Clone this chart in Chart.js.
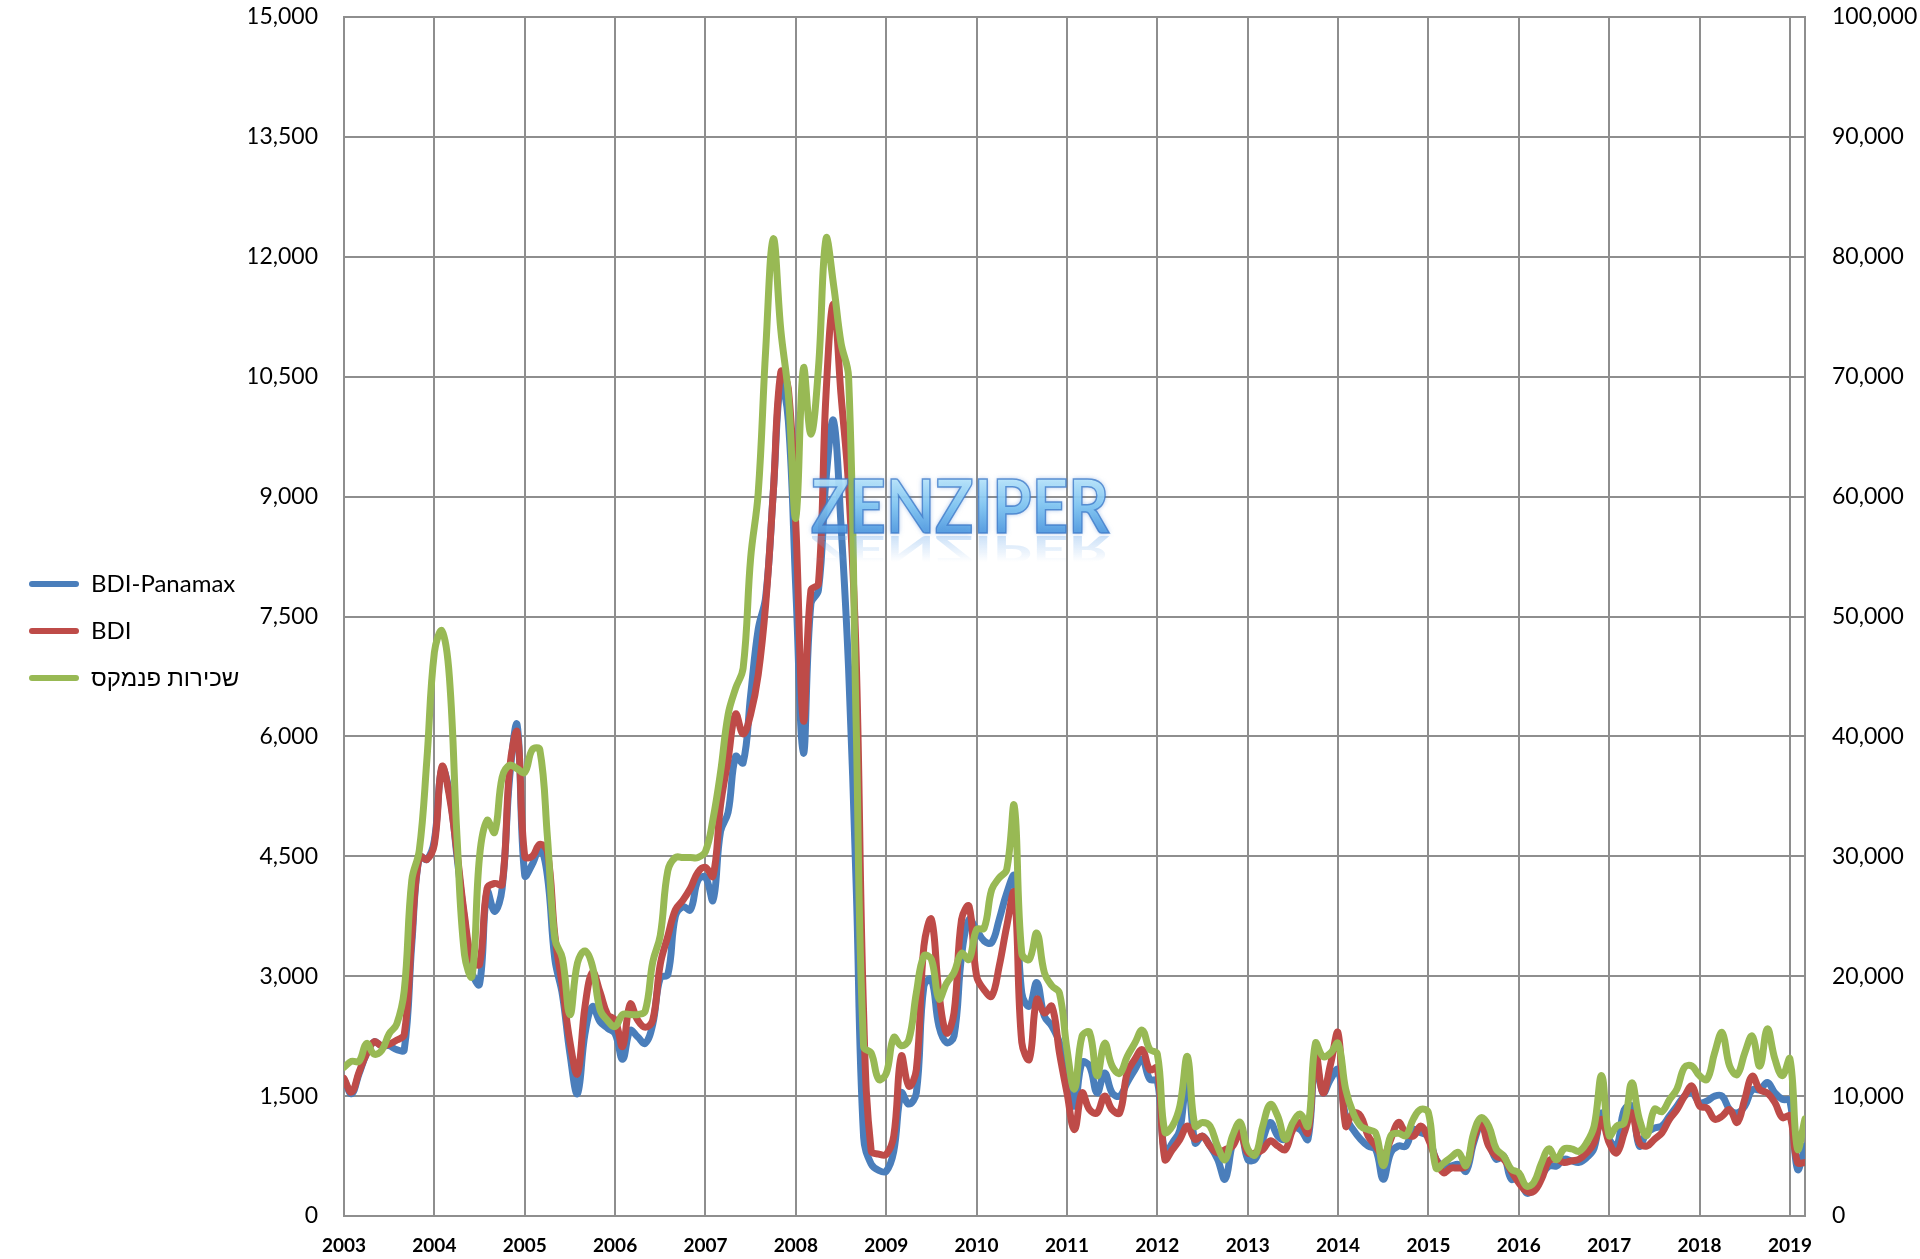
<!DOCTYPE html>
<html><head><meta charset="utf-8">
<script src="https://cdn.jsdelivr.net/npm/chart.js@4.4.1/dist/chart.umd.min.js"></script>
<style>html,body{margin:0;padding:0;background:#fff;}canvas{display:block;}</style>
</head><body>
<canvas id="c" width="1920" height="1259"></canvas>
<script>
// ---- data (monthly, Jan 2003 .. Mar 2019) ----
const firstYear = 2003;
const yearTicks = [2003,2004,2005,2006,2007,2008,2009,2010,2011,2012,2013,2014,2015,2016,2017,2018,2019];
const leftTicks = [0,1500,3000,4500,6000,7500,9000,10500,12000,13500,15000];
const rightTicks = [0,10000,20000,30000,40000,50000,60000,70000,80000,90000,100000];
const seriesNames = ['BDI-Panamax','BDI','שכירות פנמקס'];

const bdiPanamax = [
  1710,1530,1780,2030,2180,2130,2130,2080,2080,3400,4500,4460,
  4700,5600,5300,4500,3710,3050,2900,4060,3810,4100,5490,6140,
  4260,4400,4600,4260,3210,2770,2030,1530,2280,2620,2430,2350,
  2280,1960,2320,2240,2160,2400,2980,3020,3750,3870,3830,4200,
  4240,3950,4810,5050,5750,5670,6520,7340,7750,9050,10430,9950,
  7830,5790,7660,7830,9210,9950,8640,6850,4160,980,650,570,
  560,810,1540,1400,1540,2875,2960,2375,2170,2250,3250,3710,
  3580,3440,3420,3710,4040,4250,2790,2625,2920,2500,2375,2170,
  1750,1375,1920,1875,1540,1790,1540,1500,1670,1830,1960,1710,
  1690,790,915,1080,1830,915,1000,875,710,460,915,1125,
  710,710,960,1170,1000,960,1100,1080,960,1960,1540,1710,
  1830,1250,1080,960,875,830,460,790,875,875,1080,1040,
  1000,710,625,625,645,560,915,1125,940,710,750,460,
  500,290,330,500,625,625,710,690,670,730,850,1290,
  960,875,1330,1375,875,1040,1100,1125,1250,1375,1500,1540,
  1420,1440,1500,1500,1330,1290,1375,1580,1580,1670,1540,1460,
  1440,585,875
];
const bdi = [
  1720,1550,1800,2030,2180,2130,2150,2200,2270,3500,4500,4460,
  4650,5620,5250,4550,3760,3200,3150,4100,4160,4150,5600,6050,
  4500,4500,4650,4560,3510,2870,2180,1780,2620,3050,2800,2520,
  2450,2120,2650,2450,2360,2450,3150,3500,3830,3950,4100,4300,
  4360,4250,5140,5710,6280,6030,6280,6770,7660,9050,10560,10350,
  8640,6200,7830,7910,10270,11410,10270,9130,7010,2530,815,775,
  770,1000,2000,1625,1830,3375,3710,2790,2290,2540,3710,3875,
  3000,2830,2750,3125,3625,4040,2170,1960,2710,2540,2625,2040,
  1540,1080,1540,1330,1290,1500,1330,1290,1790,1960,2080,1830,
  1850,710,830,960,1125,960,1000,875,790,830,875,1040,
  790,790,830,940,875,830,1080,1170,1040,2040,1540,1900,
  2290,1125,1290,1250,1000,875,750,960,1170,1040,1000,1125,
  960,710,540,600,600,625,960,1150,875,750,710,560,
  415,310,310,460,690,710,670,690,710,790,915,1210,
  915,790,1040,1290,915,875,960,1040,1210,1330,1500,1625,
  1375,1350,1210,1250,1330,1170,1460,1750,1580,1540,1420,1230,
  1250,670,670
];
const panamaxHire = [
  12400,12900,12900,14400,13500,13800,15200,16000,18800,28000,30500,38000,
  47000,48800,44900,31700,21800,20000,30000,33000,32000,36600,37600,37300,
  37000,38900,38900,31700,23100,21500,16800,21100,22100,20800,17200,16300,
  15800,16800,16800,16800,17100,21200,23400,28800,29900,29900,29900,29900,
  30400,33100,37000,41800,44000,45700,54900,60300,72300,81500,73900,68500,
  58200,70700,65200,70700,81500,77700,72800,70000,41300,14100,13600,11400,
  11900,14900,14200,14700,18600,21700,21400,18100,19400,20300,21900,21400,
  23900,24000,27200,28200,28900,34200,21900,21400,23600,20300,19200,18600,
  13900,10600,15000,15300,11700,14400,12500,11900,13300,14400,15500,13900,
  13500,7000,7500,9200,13300,7500,7800,7500,5800,4700,6700,7800,
  5600,5100,7500,9300,8300,6400,7800,8500,7500,14400,13300,13600,
  14400,10600,8600,7500,7200,6900,4200,6700,6900,6700,8100,8900,
  8600,4000,4400,4900,5300,4200,6900,8200,7500,5600,5000,3900,
  3600,2500,2800,4400,5600,4700,5600,5600,5400,6100,7500,11700,
  6700,7500,7800,11100,8100,6700,8900,8700,9700,10600,12400,12500,
  11700,11400,13600,15300,12500,11800,13600,15000,12500,15600,13100,11700,
  13100,5600,8100
];

// month positions on the time axis (fractional years)
const monthPos = bdiPanamax.map((_, i) => firstYear + i / 12);
const toXY = arr => arr.map((v, i) => ({ x: monthPos[i], y: v }));

const FONT = "Lato, 'Liberation Sans', 'DejaVu Sans', sans-serif";
const GRID = '#8e8e8e';

const watermark = {
  id: 'watermark',
  afterDatasetsDraw(chart) {
    const ctx = chart.ctx;
    const cx = 960;
    const by = 533;
    ctx.save();
    ctx.font = 'bold 74px ' + FONT;
    ctx.textAlign = 'center';
    ctx.textBaseline = 'alphabetic';
    // reflection
    ctx.save();
    ctx.translate(cx, by + 3);
    ctx.scale(0.86, -0.5);
    const rg = ctx.createLinearGradient(0, 0, 0, -52);
    rg.addColorStop(0, 'rgba(110,170,235,0.35)');
    rg.addColorStop(1, 'rgba(110,170,235,0)');
    ctx.fillStyle = rg;
    ctx.fillText('ZENZIPER', 0, 0);
    ctx.restore();
    // main text
    ctx.translate(cx, by);
    ctx.scale(0.86, 1);
    ctx.globalAlpha = 0.9;
    const g = ctx.createLinearGradient(0, -54, 0, 0);
    g.addColorStop(0, '#b9e6fb');
    g.addColorStop(0.5, '#80c6f2');
    g.addColorStop(1, '#4e98df');
    ctx.shadowColor = 'rgba(70,130,210,0.6)';
    ctx.shadowBlur = 5;
    ctx.fillStyle = g;
    ctx.fillText('ZENZIPER', 0, 0);
    ctx.shadowBlur = 0;
    ctx.lineWidth = 1.6;
    ctx.strokeStyle = 'rgba(60,120,200,0.85)';
    ctx.strokeText('ZENZIPER', 0, 0);
    ctx.restore();
  }
};

const legendNudge = {
  id: 'legendNudge',
  afterLayout(chart) {
    if (chart.legend) { chart.legend.top -= 7; chart.legend.bottom -= 7; }
  }
};

const fmt = v => Number(v).toLocaleString('en-US');
const noVPad = s => { s.paddingTop = 0; s.paddingBottom = 0; };

new Chart(document.getElementById('c'), {
  type: 'line',
  data: {
    datasets: [
      { label: seriesNames[0], data: toXY(bdiPanamax), yAxisID: 'yL', borderColor: '#4a7ebb', backgroundColor: '#4a7ebb', order: 2 },
      { label: seriesNames[1], data: toXY(bdi), yAxisID: 'yL', borderColor: '#be4b48', backgroundColor: '#be4b48', order: 1 },
      { label: seriesNames[2], data: toXY(panamaxHire), yAxisID: 'yR', borderColor: '#98b954', backgroundColor: '#98b954', order: 0 }
    ]
  },
  options: {
    responsive: false,
    animation: false,
    devicePixelRatio: 1,
    layout: { padding: { top: 17, left: 6, right: 0, bottom: 0 } },
    elements: {
      line: { borderWidth: 7, tension: 0.4, borderCapStyle: 'round', borderJoinStyle: 'round' },
      point: { radius: 0, hoverRadius: 0 }
    },
    plugins: {
      tooltip: { enabled: false },
      legend: {
        position: 'left',
        align: 'center',
        labels: {
          font: { family: FONT, size: 24 },
          color: '#000',
          boxWidth: 50,
          boxHeight: 6,
          padding: 23,
          useBorderRadius: true,
          borderRadius: 3,
          sort: (a, b) => a.datasetIndex - b.datasetIndex,
          generateLabels(chart) {
            return chart.data.datasets.map((ds, i) => ({
              text: ds.label, fillStyle: ds.borderColor, strokeStyle: ds.borderColor,
              lineWidth: 0, hidden: false, datasetIndex: i, fontColor: '#000', borderRadius: 3
            }));
          }
        }
      }
    },
    scales: {
      x: {
        type: 'linear',
        min: firstYear,
        max: monthPos[monthPos.length - 1],
        afterBuildTicks: s => { s.ticks = yearTicks.map(v => ({ value: v })); },
        afterFit: s => { s.height = 43; },
        ticks: { font: { family: FONT, size: 19, weight: 'bold' }, color: '#000', padding: 18, maxRotation: 0, autoSkip: false, callback: v => String(v) },
        grid: { color: GRID, lineWidth: 2, drawTicks: false },
        border: { color: GRID, width: 2 }
      },
      yL: {
        type: 'linear', position: 'left', min: 0, max: 15000,
        afterBuildTicks: s => { s.ticks = leftTicks.map(v => ({ value: v })); },
        afterFit: s => { noVPad(s); const lw = (s.chart.legend && s.chart.legend.width) || 250; s.width = 338 - lw; },
        ticks: { font: { family: FONT, size: 23 }, color: '#000', padding: 26, callback: fmt },
        grid: { color: GRID, lineWidth: 2, drawTicks: false },
        border: { color: GRID, width: 2 }
      },
      yR: {
        type: 'linear', position: 'right', min: 0, max: 100000,
        afterBuildTicks: s => { s.ticks = rightTicks.map(v => ({ value: v })); },
        afterFit: s => { noVPad(s); s.width = 115; },
        ticks: { font: { family: FONT, size: 23 }, color: '#000', padding: 27, callback: fmt },
        grid: { drawOnChartArea: false, drawTicks: false },
        border: { color: GRID, width: 2 }
      }
    }
  },
  plugins: [watermark, legendNudge]
});
</script>
</body></html>
